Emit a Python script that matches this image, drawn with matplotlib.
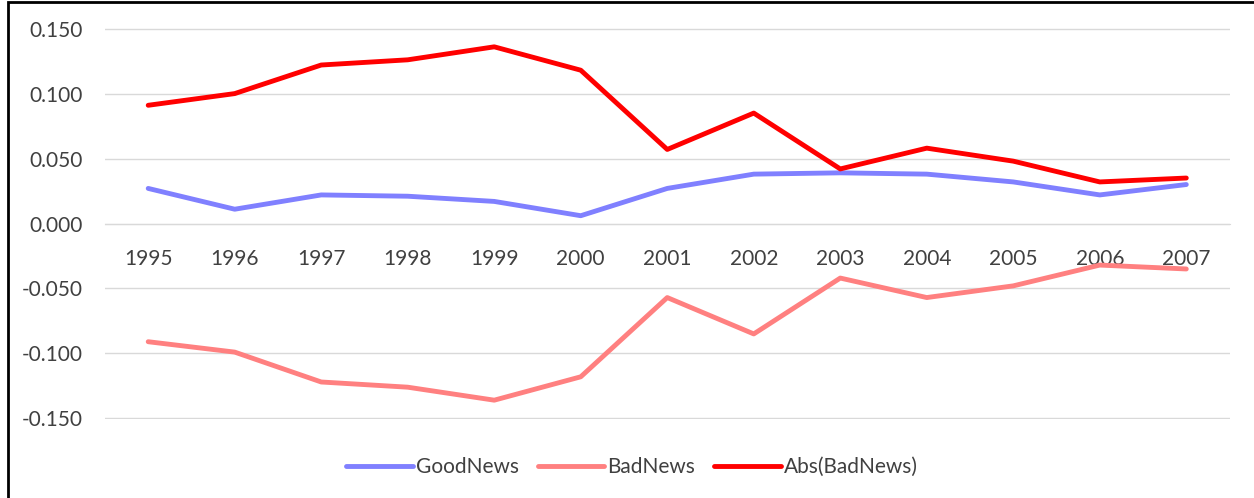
import numpy as np
import matplotlib.pyplot as plt
from matplotlib.patches import Rectangle

# données
annees = ["1995", "1996", "1997", "1998", "1999", "2000", "2001",
          "2002", "2003", "2004", "2005", "2006", "2007"]
good_news = [0.027, 0.011, 0.022, 0.021, 0.017, 0.006, 0.027,
             0.038, 0.039, 0.038, 0.032, 0.022, 0.030]
bad_news = [-0.091, -0.099, -0.122, -0.126, -0.136, -0.118, -0.057,
            -0.085, -0.042, -0.057, -0.048, -0.032, -0.035]
abs_bad_news = [0.091, 0.100, 0.122, 0.126, 0.136, 0.118, 0.057,
                0.085, 0.042, 0.058, 0.048, 0.032, 0.035]
yticks = [-0.15, -0.10, -0.05, 0.0, 0.05, 0.10, 0.15]

plt.rcParams['font.family'] = ['Lato', 'DejaVu Sans']
gris_texte = "#404040"

fig = plt.figure(figsize=(12.54, 4.98), dpi=100)
ax = fig.add_axes([0.0837, 0.1586, 0.8968, 0.7852])

x = np.arange(len(annees))
ax.plot(x, good_news, color="#8080FF", lw=3.5, label="GoodNews", solid_capstyle="round")
ax.plot(x, bad_news, color="#FF8080", lw=3.5, label="BadNews", solid_capstyle="round")
ax.plot(x, abs_bad_news, color="#FF0000", lw=3.5, label="Abs(BadNews)", solid_capstyle="round")

ax.set_xlim(-0.5, len(annees) - 0.5)
ax.set_ylim(-0.1505, 0.1505)
ax.set_yticks(yticks)
ax.set_yticklabels([f"{v:.3f}" for v in yticks], fontsize=15, color=gris_texte)
ax.grid(axis="y", color="#D9D9D9", lw=1)
ax.set_axisbelow(True)

# axe des catégories placé sur la ligne zéro
ax.spines["bottom"].set_position(("data", 0))
ax.spines["bottom"].set_color("#D9D9D9")
for s in ["top", "right", "left"]:
    ax.spines[s].set_visible(False)
ax.set_xticks(x)
ax.set_xticklabels(annees, fontsize=15, color=gris_texte)
ax.tick_params(axis="x", length=0, pad=18)
ax.tick_params(axis="y", length=0, pad=16)

leg = fig.legend(loc="center", bbox_to_anchor=(0.504, 0.062), ncol=3, frameon=False,
                 fontsize=15, handlelength=3.2, handletextpad=0.15, columnspacing=0.9)
for t in leg.get_texts():
    t.set_color(gris_texte)

# cadre noir autour de la figure
fig.patches.append(Rectangle((0.006, -0.01), 1.2, 1.006, transform=fig.transFigure,
                             fill=False, edgecolor="black", lw=2))

fig.savefig("out.png", dpi=100)
